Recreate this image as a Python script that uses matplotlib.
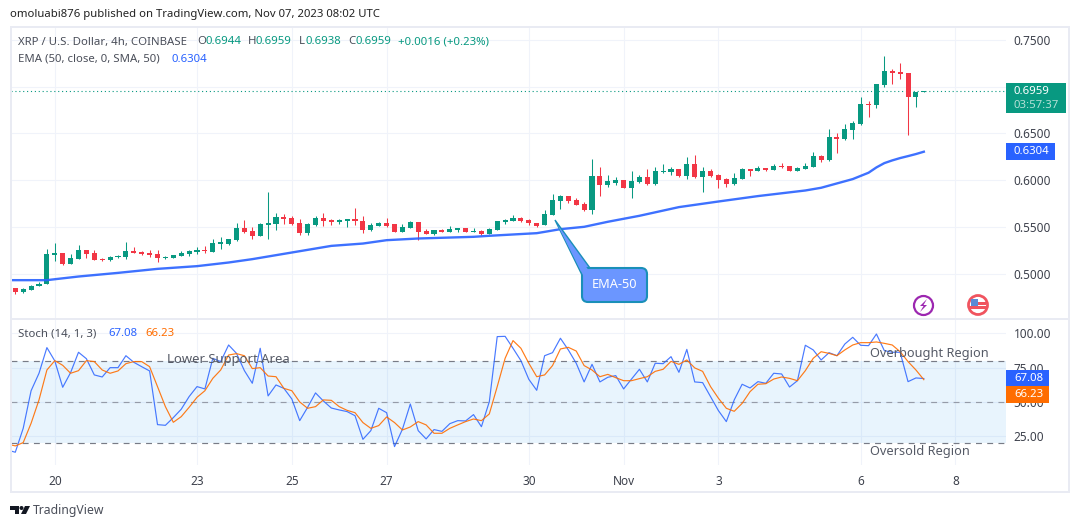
import numpy as np
import matplotlib
matplotlib.use("Agg")
import matplotlib.pyplot as plt
from matplotlib.patches import Rectangle, FancyBboxPatch, Polygon, Circle

plt.rcParams['font.family'] = ['Noto Sans', 'DejaVu Sans']

opens = [.4843,.4804,.4825,.4868,.4889,.5200,.5218,.5104,.5157,.5250,
         .5218,.5157,.5143,.5175,.5179,.5239,.5229,.5218,.5207,.5171,
         .5168,.5189,.5211,.5229,.5254,.5232,.5321,.5314,.5361,.5486,
         .5454,.5404,.5521,.5532,.5604,.5593,.5536,.5436,.5518,.5593,
         .5571,.5554,.5564,.5582,.5561,.5464,.5507,.5539,.5529,.5446,
         .5486,.5550,.5454,.5425,.5464,.5446,.5464,.5486,.5446,.5454,
         .5421,.5464,.5550,.5561,.5593,.5571,.5546,.5518,.5625,.5775,
         .5829,.5786,.5743,.5679,.6043,.5946,.5968,.6000,.5914,.5979,
         .6032,.5957,.6086,.6086,.6121,.6046,.6171,.6032,.6096,.6054,
         .6011,.5957,.6011,.6114,.6096,.6129,.6107,.6150,.6150,.6096,
         .6118,.6139,.6257,.6214,.6461,.6439,.6536,.6600,.6814,.6804,
         .7018,.7168,.7157,.7146,.6889,.6944]
highs = [.4850,.4843,.4882,.4911,.5261,.5325,.5218,.5214,.5304,.5250,
         .5250,.5164,.5186,.5196,.5336,.5282,.5246,.5250,.5250,.5193,
         .5196,.5239,.5250,.5279,.5300,.5368,.5389,.5368,.5539,.5571,
         .5493,.5536,.5871,.5646,.5636,.5611,.5582,.5546,.5614,.5646,
         .5582,.5589,.5589,.5700,.5614,.5546,.5550,.5593,.5529,.5529,
         .5561,.5550,.5475,.5464,.5475,.5507,.5486,.5486,.5486,.5464,
         .5486,.5561,.5582,.5625,.5604,.5582,.5546,.5679,.5850,.5839,
         .5829,.5807,.5764,.6225,.6139,.6054,.6032,.6000,.6096,.6054,
         .6118,.6139,.6171,.6139,.6121,.6250,.6268,.6139,.6118,.6064,
         .6021,.6075,.6129,.6114,.6150,.6129,.6171,.6182,.6150,.6139,
         .6182,.6300,.6268,.6546,.6504,.6600,.6632,.6889,.6846,.7029,
         .7329,.7189,.7254,.7146,.6946,.6959]
lows = [.4782,.4793,.4825,.4868,.4889,.5136,.5089,.5104,.5157,.5168,
        .5146,.5129,.5136,.5168,.5157,.5221,.5196,.5182,.5125,.5157,
        .5168,.5186,.5189,.5214,.5225,.5232,.5264,.5307,.5350,.5436,
        .5371,.5400,.5371,.5468,.5529,.5521,.5414,.5414,.5511,.5511,
        .5521,.5532,.5500,.5518,.5436,.5454,.5507,.5500,.5446,.5446,
        .5486,.5361,.5425,.5411,.5446,.5446,.5443,.5446,.5446,.5411,
        .5421,.5464,.5529,.5561,.5550,.5518,.5496,.5518,.5625,.5689,
        .5754,.5732,.5668,.5636,.5829,.5925,.5946,.5914,.5807,.5968,
        .5946,.5946,.6075,.6054,.6032,.6011,.6021,.5871,.6032,.5914,
        .5925,.5946,.6011,.6043,.6096,.6096,.6107,.6129,.6096,.6096,
        .6118,.6139,.6193,.6204,.6289,.6429,.6439,.6589,.6675,.6771,
        .6996,.7029,.7082,.6482,.6782,.6938]
closes = [.4804,.4832,.4871,.4893,.5207,.5218,.5100,.5164,.5250,.5207,
          .5146,.5143,.5182,.5186,.5239,.5221,.5211,.5200,.5168,.5182,
          .5196,.5218,.5243,.5250,.5246,.5325,.5339,.5368,.5486,.5443,
          .5400,.5529,.5539,.5604,.5586,.5529,.5436,.5529,.5593,.5564,
          .5550,.5575,.5582,.5564,.5464,.5518,.5539,.5514,.5446,.5496,
          .5550,.5446,.5425,.5464,.5446,.5475,.5486,.5446,.5454,.5421,
          .5475,.5561,.5571,.5593,.5561,.5539,.5514,.5636,.5786,.5829,
          .5775,.5732,.5679,.6043,.5946,.5989,.6000,.5914,.5989,.6032,
          .5957,.6096,.6096,.6121,.6043,.6171,.6032,.6096,.6043,.6000,
          .5957,.6021,.6118,.6096,.6129,.6107,.6150,.6139,.6096,.6129,
          .6150,.6257,.6214,.6461,.6439,.6546,.6611,.6814,.6804,.7029,
          .7168,.7146,.7136,.6889,.6946,.6959]

ema_bars = [-1, 4, 5, 8, 13, 18, 23, 27, 30, 35, 40, 44, 47, 51, 58, 60, 66, 67, 69, 72,
            75, 79, 84, 89, 94, 100, 102, 106, 108, 109, 110, 111, 112, 113, 114, 115]
ema_vals = [.4929,.4929,.4939,.4968,.5007,.5050,.5079,.5118,.5154,.5225,.5296,.5321,
            .5357,.5375,.5393,.5404,.5432,.5446,.5475,.5500,.5554,.5618,.5711,.5771,
            .5829,.5889,.5918,.6011,.6079,.6136,.6182,.6211,.6236,.6257,.6279,.6304]

# first value of both stoch lines is the bar before the first candle
stoch_k = [15.0,13.4,30.8,58.2,70.9,89.6,79.9,60.7,71.4,86.2,81.5,69.7,68.2,75.0,75.0,83.7,
           78.9,75.7,72.6,33.5,33.0,38.6,44.7,53.9,61.2,59.5,81.8,79.4,91.5,85.4,72.8,63.6,
           89.1,54.4,62.4,59.9,52.2,36.4,46.1,56.6,50.7,45.6,44.2,43.0,40.0,22.8,29.1,45.4,
           42.2,17.5,30.1,48.5,29.1,23.1,29.9,28.6,34.2,36.4,36.2,40.8,32.0,50.2,97.6,97.8,
           89.1,80.1,66.5,58.5,83.7,85.9,96.4,87.9,78.2,64.6,77.4,64.6,68.0,69.2,59.5,66.7,
           73.8,64.6,78.2,77.9,83.0,71.6,88.3,64.6,64.1,53.9,43.7,35.7,51.5,62.9,60.2,64.8,
           63.6,70.9,70.4,60.9,65.5,91.3,87.9,80.6,85.9,83.7,92.2,97.1,91.3,91.0,99.5,87.4,
           86.2,86.2,64.8,67.5,67.08]
stoch_d = [19.4,18.0,20.4,34.5,51.5,73.3,80.1,76.7,70.9,72.8,80.1,79.4,73.3,70.9,72.6,77.9,
           79.4,79.4,75.7,61.2,46.6,35.2,39.3,46.1,53.4,58.2,67.2,73.3,84.2,85.2,83.7,74.3,
           75.0,68.9,68.4,59.9,58.2,50.0,45.4,46.6,51.5,51.2,46.6,43.9,42.2,35.0,30.8,32.8,
           39.1,35.0,29.6,31.8,35.7,33.3,27.2,27.2,30.8,33.3,35.7,37.6,36.4,41.3,61.2,81.8,
           94.7,89.1,78.2,68.4,69.7,76.5,88.6,89.8,87.1,76.5,73.3,68.4,70.1,67.7,65.5,65.5,
           67.0,68.4,72.3,73.8,79.6,77.4,80.6,74.8,72.3,61.2,52.7,45.4,43.2,49.0,57.5,62.9,
           63.3,66.7,68.2,67.2,65.5,72.8,81.8,86.6,85.4,83.7,87.9,91.5,93.2,93.2,93.7,92.7,
           91.5,86.6,79.4,73.3,66.23]

price_ticks = [0.50, 0.55, 0.60, 0.65, 0.70, 0.75]
stoch_ticks = [25, 50, 75, 100]
date_bars = [5, 23, 35, 47, 65, 77, 89, 107, 119]
date_labels = ["20", "23", "25", "27", "30", "Nov", "3", "6", "8"]

UP = "#089981"
DOWN = "#f23645"
BLUE = "#2962ff"
ORANGE = "#ff6d00"
GRID = "#f0f3fa"
TEXT = "#4a4e59"
FS = 8.2
W, H = 1080, 528


def px_axes(left, top, right, bottom):
    return fig.add_axes([left / W, 1 - bottom / H, (right - left) / W, (bottom - top) / H])


def value_tag(ax, center, label, color, width_px, height_px=16.6):
    # box hugs the right edge of the pane, its height is turned into data units
    bbox = ax.get_position()
    lo, hi = ax.get_ylim()
    h = height_px / (bbox.height * H) * (hi - lo)
    w = width_px / (bbox.width * W)
    ax.add_patch(Rectangle((1, center - h / 2), w, h, transform=ax.get_yaxis_transform(),
                           fc=color, ec="none", clip_on=False, zorder=6))
    ax.text(1 + 8 / (bbox.width * W), center, label, transform=ax.get_yaxis_transform(),
            color="white", fontsize=FS, fontweight="bold", va="center", ha="left", zorder=7)


fig = plt.figure(figsize=(W / 100, H / 100), dpi=100, facecolor="white")
ax = px_axes(11, 27, 1006, 318)
ax2 = px_axes(11, 320, 1006, 465)

x = np.arange(len(closes))
opens_a, closes_a = np.array(opens), np.array(closes)
colors = [UP if c >= o else DOWN for o, c in zip(opens, closes)]

ax.vlines(x, lows, highs, colors=colors, lw=0.75, zorder=3)
ax.bar(x, np.abs(closes_a - opens_a), bottom=np.minimum(opens_a, closes_a), width=0.64,
       color=colors, zorder=4)
ax.plot(ema_bars, ema_vals, color=BLUE, lw=1.7, alpha=0.9, zorder=5)
ax.axhline(closes[-1], color=UP, lw=0.8, ls=(0, (1, 2.5)), zorder=2)

ax.set_xlim(-0.544, 125.4)
ax.set_ylim(0.4524, 0.7639)
ax.set_yticks(price_ticks)
# the 0.7000 label sits fully behind the last price tag in the original
ax.set_yticklabels(["" if v == 0.70 else "%.4f" % v for v in price_ticks])

ax2.axhspan(20, 80, color="#2196f3", alpha=0.1, lw=0, zorder=1)
for level, alpha in zip([80, 50, 20], [1, 0.7, 1]):
    ax2.axhline(level, color="#787b86", lw=0.85, ls=(0, (5, 4.5)), alpha=alpha, zorder=2)
stoch_x = np.arange(len(stoch_k)) - 1
ax2.plot(stoch_x, stoch_k, color=BLUE, lw=0.85, alpha=0.85, zorder=4)
ax2.plot(stoch_x, stoch_d, color=ORANGE, lw=0.85, alpha=0.9, zorder=5)
ax2.set_xlim(-0.544, 125.4)
ax2.set_ylim(4.1, 109.7)
ax2.set_yticks(stoch_ticks)
ax2.set_yticklabels(["%.2f" % v for v in stoch_ticks])

for a in (ax, ax2):
    a.grid(True, color=GRID, lw=0.8)
    a.set_axisbelow(True)
    a.yaxis.tick_right()
    a.tick_params(axis="y", length=0, pad=5.5, labelsize=FS + 0.3, labelcolor="#3d414c")
    a.tick_params(axis="x", length=0)
    for s in a.spines.values():
        s.set_visible(False)
    a.set_xticks(date_bars)
ax.set_xticklabels([])
ax2.set_xticklabels(date_labels)
ax2.tick_params(axis="x", labelsize=FS + 0.3, labelcolor="#3d414c", pad=7)
ax2.get_xticklabels()[5].set_fontweight("bold")

value_tag(ax, ema_vals[-1], "0.6304", BLUE, 49)
value_tag(ax2, stoch_k[-1] + 0.2, "67.08", BLUE, 43)
value_tag(ax2, stoch_d[-1] - 11, "66.23", ORANGE, 43)

# everything below is page furniture, drawn in screen pixels
ov = fig.add_axes([0, 0, 1, 1], zorder=10)
ov.set_xlim(0, W)
ov.set_ylim(H, 0)
ov.axis("off")

for rect in [(10, 26, 2, 467), (1068, 26, 2, 467), (10, 26, 1060, 2), (10, 491, 1060, 2),
             (11, 318, 1058, 1.5)]:
    ov.add_patch(Rectangle(rect[:2], rect[2], rect[3], fc="#e9ebf3", ec="none"))

ov.text(10, 14, "omoluabi876 published on TradingView.com, Nov 07, 2023 08:02 UTC",
        fontsize=8.15, color="#222222", va="center")
ov.text(18, 42, "XRP / U.S. Dollar, 4h, COINBASE", fontsize=FS, color=TEXT, va="center")
for tx, s, c in [(197, "O", TEXT), (205, "0.6944", UP), (248, "H", TEXT), (256, "0.6959", UP),
                 (299, "L", TEXT), (305, "0.6938", UP), (348, "C", TEXT), (356, "0.6959", UP),
                 (398, "+0.0016 (+0.23%)", UP)]:
    ov.text(tx, 42, s, fontsize=FS, color=c, va="center")
ov.text(18, 59, "EMA (50, close, 0, SMA, 50)", fontsize=FS, color=TEXT, va="center")
ov.text(172, 59, "0.6304", fontsize=FS, color=BLUE, va="center")
ov.text(18, 334, "Stoch (14, 1, 3)", fontsize=FS, color=TEXT, va="center")
ov.text(108, 334, "67.08", fontsize=FS, color=BLUE, va="center")
ov.text(145, 334, "66.23", fontsize=FS, color=ORANGE, va="center")

ov.add_patch(Rectangle((1006, 83), 60, 30, fc=UP, ec="none"))
ov.text(1014, 91, "0.6959", color="white", fontsize=FS, fontweight="bold", va="center")
ov.text(1014, 105, "03:57:37", color="#b5e0d6", fontsize=FS, va="center")

for tx, ty, s, fs in [(167, 359, "Lower Support Area", 9.4), (870, 353, "Overbought Region", 9.2),
                      (870, 451, "Oversold Region", 9.2)]:
    ov.text(tx, ty, s, fontsize=fs, color="#555a66", va="center")

# EMA-50 callout
ov.add_patch(Polygon([(555, 220), (582, 275), (590, 268)], fc="#6b96ff", ec="#1a8fb8", lw=1))
ov.add_patch(FancyBboxPatch((582, 268), 65, 34, boxstyle="round,pad=0,rounding_size=6",
                            fc="#6b96ff", ec="#1a8fb8", lw=1.5))
ov.add_patch(Polygon([(557, 224), (584, 277), (589, 271)], fc="#6b96ff", ec="none"))
ov.text(614.5, 285, "EMA-50", color="white", fontsize=9.2, ha="center", va="center")

# lightning + flag badges
ov.add_patch(Circle((923.5, 305.5), 9.5, fc="white", ec="#9c27b0", lw=1.6))
ov.add_patch(Polygon([(927, 299), (920, 306), (923.5, 306), (920, 312), (927, 305), (923.5, 305)],
                     fc="#9c27b0", ec="none"))
ov.add_patch(Circle((978, 305), 9.5, fc="white", ec="#f0545f", lw=2))
ov.add_patch(Rectangle((970, 306), 16, 3, fc="#f0545f", ec="none"))
ov.add_patch(Rectangle((978, 302), 8, 2.5, fc="#f0545f", ec="none"))
ov.add_patch(Rectangle((971, 299), 7, 7, fc="#5b8bd6", ec="none"))

# TradingView logo
ov.add_patch(Polygon([(10, 506), (19, 506), (19, 514), (15, 514), (15, 510), (10, 510)], fc="#131722", ec="none"))
ov.add_patch(Circle((21.5, 508), 2, fc="#131722", ec="none"))
ov.add_patch(Polygon([(25, 506), (30, 506), (26, 514), (21, 514)], fc="#131722", ec="none"))
ov.text(33, 510.5, "TradingView", fontsize=8.8, color="#4a4e59", va="center")

fig.savefig("out.png", dpi=100)
